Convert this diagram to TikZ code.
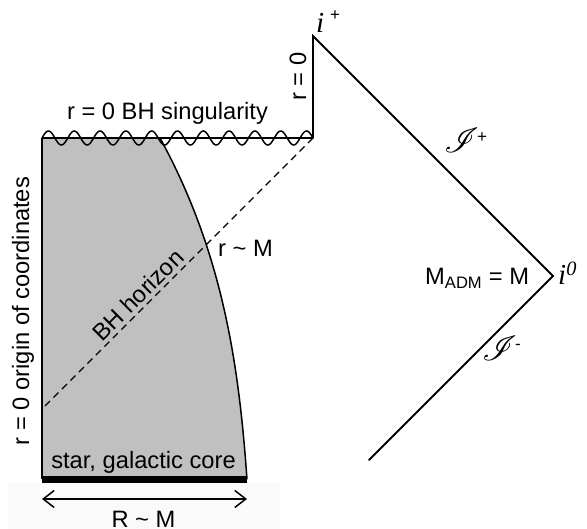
\documentclass[tikz,border=0pt]{standalone}
\usepackage{fontspec}
\setmainfont{Liberation Sans}
\newfontfamily\tnr{Liberation Serif}
\usepackage{mathrsfs}
\usetikzlibrary{arrows.meta}
\definecolor{starfill}{RGB}{192,192,192}
\definecolor{bandfill}{RGB}{250,250,250}
\begin{document}
\begin{tikzpicture}[x=1pt,y=-1pt,
  lbl/.style={font=\fontsize{23.7}{28}\selectfont, inner sep=0pt},
  ilbl/.style={font=\fontsize{29}{32}\selectfont\tnr\itshape, inner sep=0pt},
  suplbl/.style={font=\fontsize{17}{20}\selectfont, inner sep=0pt},
  scrlbl/.style={font=\fontsize{24}{28}\selectfont, inner sep=0pt},
  edge/.style={line width=1.8pt, line join=miter, line cap=round},
  thinedge/.style={line width=1.5pt},
  horizon/.style={line width=1.4pt, dash pattern=on 7pt off 5pt}]
\useasboundingbox (0,0) rectangle (587,529);
\fill[bandfill] (8,483) rectangle (280,529);
% corners
\coordinate (ot) at (42,138);
\coordinate (ct) at (160,138);
\coordinate (cb) at (247,479.5);
\coordinate (ob) at (42,479.5);
\coordinate (sr) at (313,138);
\coordinate (ip) at (313,36);
\coordinate (iz) at (553,276);
\coordinate (pe) at (369,460);
\coordinate (hl) at (42,409);
\coordinate (al) at (42,499);
\coordinate (ar) at (247,499);
% star region
\fill[starfill] (ot) -- (ct) .. controls (223,253) and (239,366) .. (cb) -- (ob) -- cycle;
\draw[thinedge] (ct) .. controls (223,253) and (239,366) .. (cb);
\draw[thinedge] (ot) -- (ob);
\draw[line width=7pt] (ob) -- (cb);
% singularity
\draw[thinedge] (ot) -- (sr);
\draw[thinedge] plot[domain=0:271, samples=300, smooth] ({42+\x}, {138-7*sin(\x/25.81*360)});
% Penrose boundary
\draw[edge] (sr) -- (ip) -- (iz) -- (pe);
% horizon
\draw[horizon] (sr) -- (hl);
% size arrow
\draw[line width=1.5pt, {Straight Barb[length=11pt,width=17pt]}-{Straight Barb[length=11pt,width=17pt]}] (al) -- (ar);
% labels
\node[lbl, anchor=base] (tsing) at (167.5,120) {r = 0 BH singularity};
\node[lbl, anchor=base, rotate=90] (tr0) at (306,76.5) {r = 0};
\node[lbl, anchor=base, rotate=90] (torig) at (29,311) {r = 0 origin of coordinates};
\node[lbl, anchor=base, rotate=45] (thor) at (144,301) {BH horizon};
\node[lbl, anchor=base west] (trm) at (218,257) {r \textasciitilde{} M};
\node[lbl, anchor=base west] (tadm) at (425,285) {M\textsubscript{ADM} = M};
\node[lbl, anchor=base] (tstar) at (143.5,468) {star, galactic core};
\node[lbl, anchor=base] (tR) at (143.5,527) {R \textasciitilde{} M};
\node[ilbl, anchor=base west] (tip) at (316,33) {i};
\node[suplbl, anchor=base west] (tipsup) at (330,21) {+};
\node[ilbl, anchor=base west] (tiz) at (558,285) {i\textsuperscript{0}};
\node[scrlbl, anchor=base west] (tsp) at (444,153) {\scalebox{1.4}{$\mathscr{I}$}};
\node[suplbl, anchor=base west] (tspsup) at (477,143) {+};
\node[scrlbl, anchor=base west] (tsm) at (482,361) {\scalebox{1.4}{$\mathscr{I}$}};
\node[suplbl, anchor=base west] (tsmsup) at (515,350) {-};
\end{tikzpicture}
\end{document}
